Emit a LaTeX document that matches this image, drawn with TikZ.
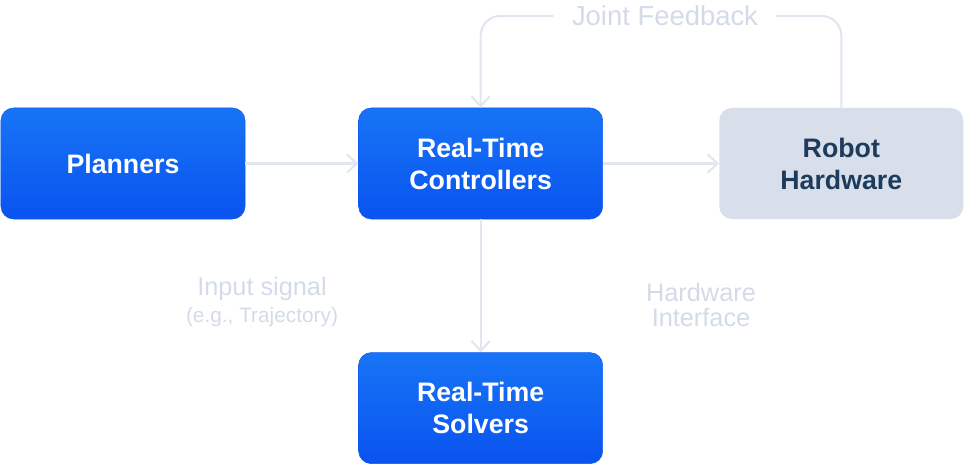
\documentclass[tikz,border=0pt]{standalone}
\usepackage{fontspec}
\setmainfont{Liberation Sans}
\usepackage{xcolor}
\usetikzlibrary{positioning,arrows.meta}
\definecolor{bluetop}{HTML}{1774F6}
\definecolor{bluebot}{HTML}{0A53EF}
\definecolor{blueedge}{HTML}{0B5BF2}
\definecolor{grayfill}{HTML}{D8DEEA}
\definecolor{graytext}{HTML}{1D3B5C}
\definecolor{linegray}{HTML}{E1E6EF}
\definecolor{lblgray}{HTML}{D3DBE8}

\begin{document}
\begin{tikzpicture}[x=0.025cm, y=-0.025cm,
  box/.style={rounded corners=9pt, align=center, inner sep=0pt,
    minimum width=6.1cm, minimum height=2.775cm,
    font=\fontsize{19}{22.7}\selectfont\bfseries},
  bluebox/.style={box, draw=blueedge, top color=bluetop, bottom color=bluebot, text=white},
  graybox/.style={box, fill=grayfill, text=graytext},
  ln/.style={line width=1.5pt, draw=linegray},
  ar/.style={ln, -{Straight Barb[length=7pt,width=13pt]}},
  lbl/.style={text=lblgray, align=center, font=\fontsize{18}{18.4}\selectfont}
]
\useasboundingbox (0,0) rectangle (966,464);

\node[bluebox] (plan) at (123,163.5) {Planners};
\node[bluebox, right=2.825cm of plan] (rtc) {Real-Time\\ Controllers};
\node[graybox, right=2.9cm of rtc] (hw) {Robot\\ Hardware};
\node[bluebox, below=3.325cm of rtc] (solv) {Real-Time\\ Solvers};

\node[lbl, font=\fontsize{19.5}{22}\selectfont, inner xsep=13pt] (fb) at (665,16) {Joint Feedback};
\node[lbl] (insig) at (262,302) {Input signal\\[1pt] {\fontsize{14.8}{16}\selectfont (e.g., Trajectory)}};
\node[lbl] (hwif) at (701,305) {Hardware\\ Interface};

\draw[ar] (plan) -- (rtc);
\draw[ar] (rtc) -- (hw);
\draw[ar] (rtc) -- (solv);
\draw[ln, rounded corners=14pt] (hw.north) |- (fb.east);
\draw[ar, rounded corners=14pt] (fb.west) -| (rtc.north);
\end{tikzpicture}
\end{document}
